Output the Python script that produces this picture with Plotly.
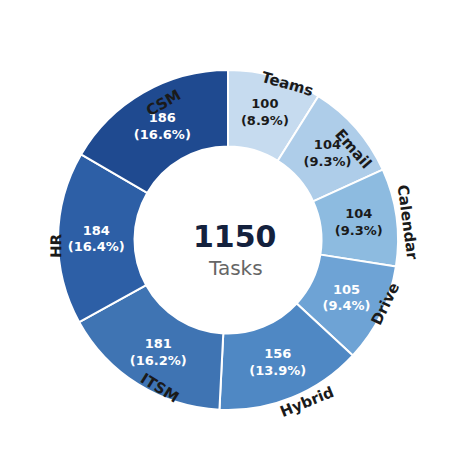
import math
import plotly.graph_objects as go

labels = ["Teams", "Email", "Calendar", "Drive", "Hybrid", "ITSM", "HR", "CSM"]
values = [100, 104, 104, 105, 156, 181, 184, 186]
colors = ["#c6dbef", "#aecde9", "#8dbbe0", "#6ea3d5", "#4f88c4", "#3f74b3", "#2d5fa6", "#1f4a90"]
text_colors = ["#1a1a1a", "#1a1a1a", "#1a1a1a", "white", "white", "white", "white", "white"]
center_total = "1150"
center_label = "Tasks"

W = H = 474
cx, cy, R = 227, 240, 170  # wanted pixel centre and outer radius
dx, dy = -7, -8  # plotly places the pie slightly off its domain centre

fig = go.Figure(go.Pie(
    labels=labels, values=values, sort=False, direction="clockwise", rotation=0,
    hole=0.55,
    marker=dict(colors=colors, line=dict(color="white", width=2)),
    texttemplate="<b>%{value}<br>(%{percent:.1%})</b>",
    textposition="inside", insidetextorientation="horizontal",
    textfont=dict(family="DejaVu Sans", size=13, color=text_colors),
    domain=dict(x=[(cx + dx - R) / W, (cx + dx + R) / W],
                y=[(H - cy - dy - R) / H, (H - cy - dy + R) / H]),
    showlegend=False, hoverinfo="label+value",
))

# outside labels, rotated along the ring
total = sum(values)
cum = 0
for lab, v in zip(labels, values):
    theta = (cum + v / 2) / total * 360
    cum += v
    r = 190
    px = cx + r * math.sin(math.radians(theta))
    py = cy - r * math.cos(math.radians(theta))
    ang = theta if (theta < 90 or theta > 270) else theta - 180
    if ang > 180:
        ang -= 360
    fig.add_annotation(x=px / W, y=1 - py / H, xref="paper", yref="paper",
                       text="<b>%s</b>" % lab, showarrow=False, textangle=ang,
                       font=dict(family="DejaVu Sans", size=15, color="#1a1a1a"))

fig.add_annotation(x=cx / W, y=1 - 228 / H, xref="paper", yref="paper",
                   text="<b>%s</b>" % center_total, showarrow=False,
                   font=dict(family="DejaVu Sans", size=30, color="#14213d"))
fig.add_annotation(x=cx / W, y=1 - 260 / H, xref="paper", yref="paper",
                   text=center_label, showarrow=False,
                   font=dict(family="DejaVu Sans", size=20, color="#666666"))

fig.update_layout(width=W, height=H, margin=dict(l=0, r=0, t=0, b=0),
                  paper_bgcolor="white", plot_bgcolor="white")
fig.write_html("out.html")
